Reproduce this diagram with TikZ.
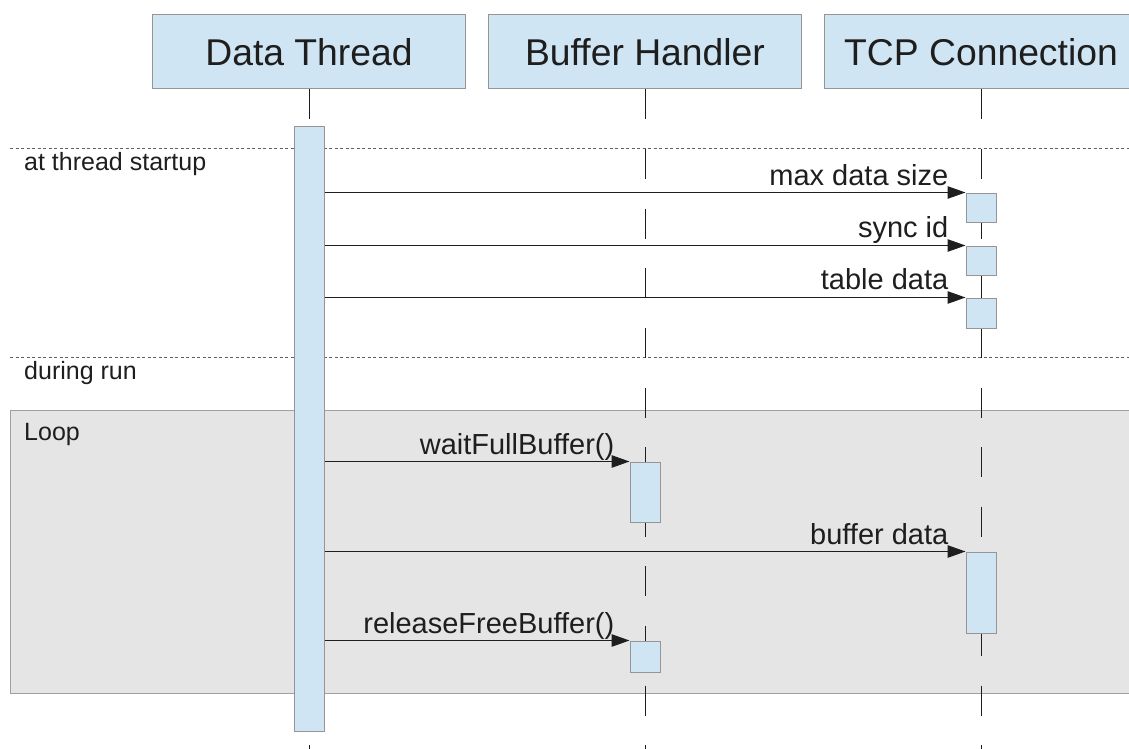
\documentclass[tikz,border=0pt]{standalone}
\usepackage{fontspec}
\setmainfont{Liberation Sans}
\usetikzlibrary{arrows.meta,calc}
\definecolor{actfill}{HTML}{CFE5F3}
\definecolor{boxline}{HTML}{959595}
\definecolor{loopfill}{HTML}{E5E5E5}
\definecolor{loopline}{HTML}{A0A0A0}
\definecolor{ink}{HTML}{1E1E1E}
\definecolor{divline}{HTML}{606060}

\begin{document}
\begin{tikzpicture}[x=1pt,y=-1pt,
  header/.style={draw=boxline, line width=1pt, fill=actfill, minimum width=313pt,
    minimum height=74pt, inner sep=0pt, font=\fontsize{37.3}{42}\selectfont, text=ink},
  act/.style={draw=boxline, line width=1pt, fill=actfill, minimum width=30pt, inner sep=0pt},
  lifeline/.style={line width=1pt, ink, dash pattern=on 30pt off 29.6pt},
  msg/.style={line width=1.1pt, ink, -{Triangle[length=18pt,width=12.5pt]}},
  msglabel/.style={anchor=base east, font=\fontsize{29}{32}\selectfont, text=ink, inner sep=0pt},
  seclabel/.style={anchor=base west, font=\fontsize{25}{29}\selectfont, text=ink, inner sep=0pt},
  divider/.style={line width=0.9pt, divline, dash pattern=on 3pt off 2.5pt},
  loopbox/.style={draw=loopline, line width=1.2pt, fill=loopfill, anchor=north west,
    minimum width=1140pt, minimum height=283pt, inner sep=0pt}
]
\useasboundingbox (0,0) rectangle (1129,749);
\clip (0,0) rectangle (1129,749);

% combined fragment (loop)
\node[loopbox] (loop) at (10,410) {};
\node[seclabel] (looplbl) at (24,440) {Loop};

% section dividers
\coordinate (d1a) at (10,148);  \coordinate (d1b) at (1129,148);
\coordinate (d2a) at (10,357);  \coordinate (d2b) at (1129,357);
\draw[divider] (d1a) -- (d1b);
\draw[divider] (d2a) -- (d2b);
\node[seclabel] (sec1) at (24,170) {at thread startup};
\node[seclabel] (sec2) at (24,379) {during run};

% participants
\node[header] (dt)  at (309,52) {Data Thread};
\node[header] (bh)  at (645,52) {Buffer Handler};
\node[header] (tcp) at (981,52) {TCP Connection};

% lifelines
\coordinate (bottom) at (0,749);
\draw[lifeline] (dt.south)  -- (dt.south |- bottom);
\draw[lifeline] (bh.south)  -- (bh.south |- bottom);
\draw[lifeline] (tcp.south) -- (tcp.south |- bottom);

% activations
\node[act, minimum height=604pt] (dtact) at (309,429) {};
\node[act, minimum height=29pt] (t1) at (981,207.5) {};
\node[act, minimum height=29pt] (t2) at (981,260.5) {};
\node[act, minimum height=30pt] (t3) at (981,313) {};
\node[act, minimum height=81pt] (t4) at (981,592.5) {};
\node[act, minimum height=60pt] (b1) at (645,492) {};
\node[act, minimum height=31pt] (b2) at (645,656.5) {};

% messages
\draw[msg] (dtact.east |- t1.north west) -- (t1.north west);
\node[msglabel] (l1) at ($(t1.north west)+(-17,-7)$) {max data size};
\draw[msg] (dtact.east |- t2.north west) -- (t2.north west);
\node[msglabel] (l2) at ($(t2.north west)+(-17,-8)$) {sync id};
\draw[msg] (dtact.east |- t3.north west) -- (t3.north west);
\node[msglabel] (l3) at ($(t3.north west)+(-17,-8)$) {table data};
\draw[msg] (dtact.east |- b1.north west) -- (b1.north west);
\node[msglabel] (l4) at ($(b1.north west)+(-15,-7)$) {waitFullBuffer()};
\draw[msg] (dtact.east |- t4.north west) -- (t4.north west);
\node[msglabel] (l5) at ($(t4.north west)+(-17,-7)$) {buffer data};
\draw[msg] (dtact.east |- b2.north west) -- (b2.north west);
\node[msglabel] (l6) at ($(b2.north west)+(-15,-7)$) {releaseFreeBuffer()};
\end{tikzpicture}
\end{document}
